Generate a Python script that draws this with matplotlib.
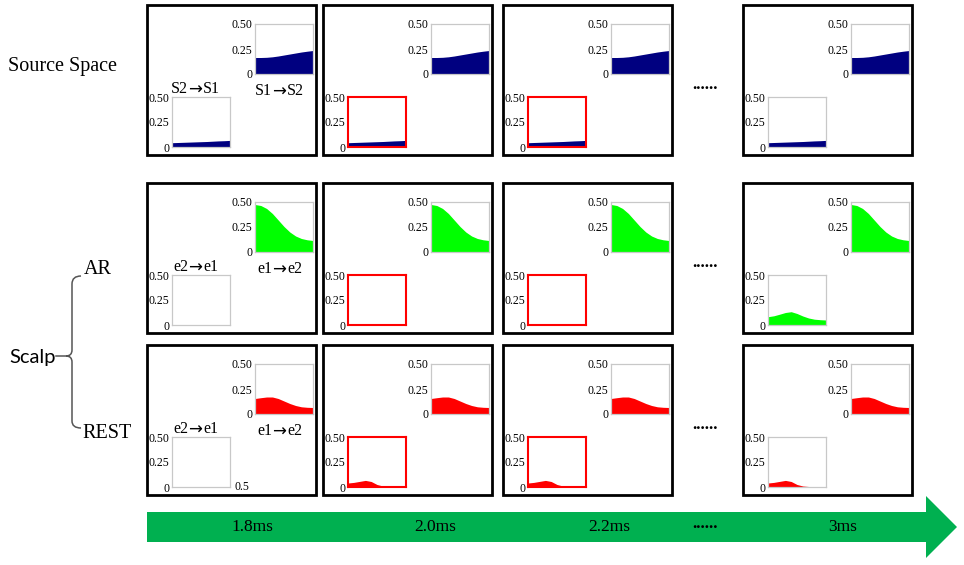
import matplotlib
matplotlib.use("Agg")
import matplotlib.pyplot as plt
from matplotlib.patches import Polygon, Rectangle, PathPatch
from matplotlib.path import Path

# ---------------- data ----------------
x_vals = [0.0, 0.05, 0.10, 0.15, 0.20, 0.25, 0.30, 0.35, 0.40, 0.45, 0.50]
source_s1_to_s2 = [0.165, 0.165, 0.167, 0.172, 0.180, 0.190, 0.200, 0.210, 0.220, 0.228, 0.235]
source_s2_to_s1 = [0.043, 0.045, 0.047, 0.049, 0.051, 0.053, 0.055, 0.058, 0.061, 0.063, 0.066]
ar_e1_to_e2 = [0.475, 0.465, 0.435, 0.385, 0.320, 0.255, 0.200, 0.160, 0.135, 0.122, 0.115]
ar_e2_to_e1_late = [0.083, 0.092, 0.108, 0.125, 0.133, 0.115, 0.090, 0.070, 0.058, 0.053, 0.050]
rest_e1_to_e2 = [0.155, 0.163, 0.170, 0.170, 0.155, 0.130, 0.105, 0.085, 0.072, 0.067, 0.065]
rest_e2_to_e1 = [0.040, 0.046, 0.056, 0.066, 0.055, 0.025, 0.010, 0.005, 0.003, 0.003, 0.003]

time_labels = ["1.8ms", "2.0ms", "2.2ms", "3ms"]
row_labels = ["Source Space", "AR", "REST"]
pair_labels = [(("S2", "S1"), ("S1", "S2")), (("e2", "e1"), ("e1", "e2")), (("e2", "e1"), ("e1", "e2"))]
y_ticks = [0, 0.25, 0.5]
y_ticklabels = ["0", "0.25", "0.50"]

rows = [
    (source_s1_to_s2, [source_s2_to_s1, source_s2_to_s1, source_s2_to_s1, source_s2_to_s1], "#000080"),
    (ar_e1_to_e2, [None, None, None, ar_e2_to_e1_late], "#00FF00"),
    (rest_e1_to_e2, [None, rest_e2_to_e1, rest_e2_to_e1, rest_e2_to_e1], "#FF0000"),
]
highlight_cols = [1, 2]

# ---------------- layout ----------------
W, H = 964, 565
fig = plt.figure(figsize=(W / 100, H / 100), dpi=100)
SERIF = ["Liberation Serif", "DejaVu Serif"]

def px_axes(x0, y0, w, h, **kw):
    return fig.add_axes([x0 / W, 1 - (y0 + h) / H, w / W, h / H], **kw)

ov = fig.add_axes([0, 0, 1, 1])
ov.set_xlim(0, W)
ov.set_ylim(H, 0)
ov.axis("off")

def arrow_label(cx, cy, left, right):
    ov.text(cx - 7, cy, left, ha="right", va="center", family=SERIF, fontsize=11.5)
    ov.text(cx - 0.5, cy + 0.5, "\u2192", ha="center", va="center", family=["DejaVu Sans"], fontsize=12)
    ov.text(cx + 8, cy, right, ha="left", va="center", family=SERIF, fontsize=11.5)

col_x = [147, 323, 503, 743]
row_y = [5, 183, 345]
PW, PH = 169, 150

for r, (ur_series, ll_list, color) in enumerate(rows):
    for c in range(4):
        px, py = col_x[c], row_y[r]
        ov.add_patch(Rectangle((px, py), PW, PH, fill=False, ec="black", lw=2.0))
        axes_specs = [((px + 108, py + 19), ur_series, False),
                      ((px + 25, py + 92), ll_list[c], c in highlight_cols)]
        for (ax0, ay0), series, hl in axes_specs:
            ax = px_axes(ax0, ay0, 58, 50)
            ax.set_xlim(0, 0.5)
            ax.set_ylim(0, 0.5)
            if series is not None:
                ax.fill_between(x_vals, 0, series, color=color, lw=0, zorder=1)
            ax.set_xticks([])
            ax.set_yticks(y_ticks)
            ax.set_yticklabels(y_ticklabels, family=SERIF, fontsize=8.5)
            ax.tick_params(axis="y", length=0, pad=2)
            for sp in ax.spines.values():
                if hl:
                    sp.set_color("#FF0000")
                    sp.set_linewidth(1.5)
                else:
                    sp.set_color("#C8C8C8")
                    sp.set_linewidth(0.9)
                sp.set_zorder(3)
            if r == 2 and c == 0 and ay0 > py + 50:
                ax.text(1.07, 0, "0.5", transform=ax.transAxes, ha="left", va="center",
                        family=SERIF, fontsize=8.5)
    (l1, l2), (u1, u2) = pair_labels[r]
    py = row_y[r]
    arrow_label(195, py + 84, l1, l2)
    arrow_label(279, py + 86, u1, u2)
    ov.text(705, py + 80, "......", ha="center", va="center", family=SERIF, fontsize=12,
            fontweight="bold")

# left labels
ov.text(62, 67, row_labels[0], ha="center", va="center", family=SERIF, fontsize=14.5)
ov.text(84, 270, row_labels[1], ha="left", va="center", family=SERIF, fontsize=14.5)
ov.text(82, 433, row_labels[2], ha="left", va="center", family=SERIF, fontsize=14.5)
ov.text(9, 357, "Scalp", ha="left", va="center", family=["Lato", "DejaVu Sans"], fontsize=14.5)

# brace
verts = [(81, 276), (72, 276), (72, 284), (72, 350), (72, 356), (66, 356),
         (72, 356), (72, 362), (72, 421), (72, 428), (81, 428)]
codes = [Path.MOVETO, Path.CURVE3, Path.CURVE3, Path.LINETO, Path.CURVE3, Path.CURVE3,
         Path.CURVE3, Path.CURVE3, Path.LINETO, Path.CURVE3, Path.CURVE3]
ov.add_patch(PathPatch(Path(verts, codes), fill=False, ec="#555555", lw=1.1))
ov.plot([56, 66], [356, 356], color="#555555", lw=1.1)

# time arrow
ov.add_patch(Polygon([(147, 512), (926, 512), (926, 496), (957, 527), (926, 558),
                      (926, 542), (147, 542)], closed=True, fc="#00B050", ec="none"))
time_x = [252, 435, 609, 843]
for tx, lab in zip(time_x, time_labels):
    ov.text(tx, 527, lab, ha="center", va="center", family=SERIF, fontsize=12.5)
ov.text(705, 524, "......", ha="center", va="center", family=SERIF, fontsize=12, fontweight="bold")

fig.savefig("out.png", dpi=100)
